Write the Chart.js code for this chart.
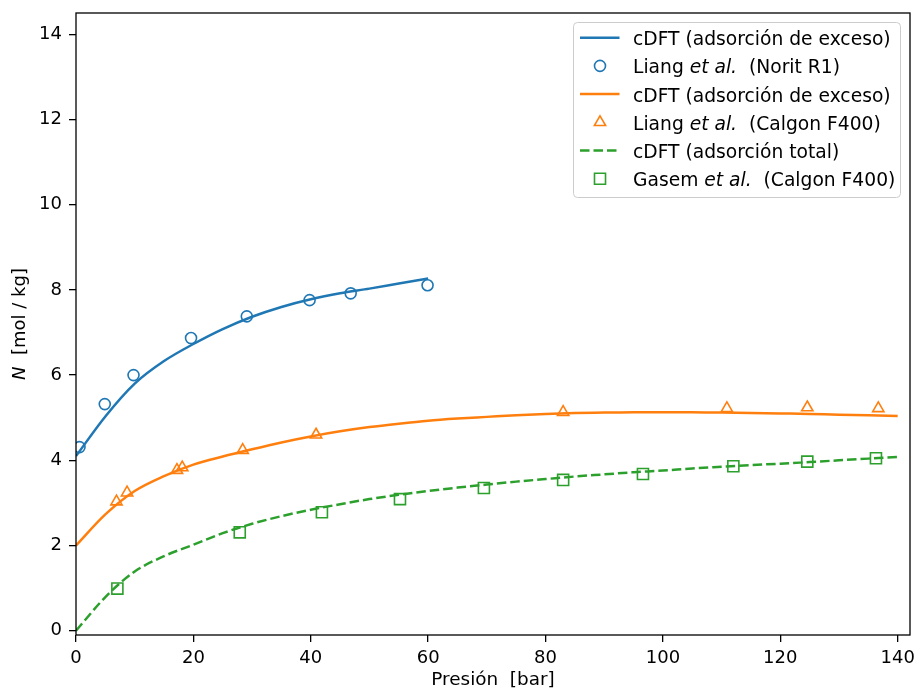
<!DOCTYPE html>
<html>
<head>
<meta charset="utf-8">
<script src="https://cdn.jsdelivr.net/npm/chart.js@4.4.0/dist/chart.umd.min.js"></script>
<style>
  html, body { margin: 0; padding: 0; background: #fff; }
</style>
</head>
<body>
<canvas id="isotermas" width="915" height="691"></canvas>
<script>
// curvas cDFT
var presionNorit = [0, 5, 10, 15, 20, 25, 30, 35, 40, 45, 50, 55, 60];
var excesoNorit = [4.1, 5.03, 5.8, 6.33, 6.73, 7.08, 7.37, 7.6, 7.78, 7.92, 8.03, 8.15, 8.27];

var presionCalgon = [0, 5, 10, 15, 20, 25, 30, 35, 40, 45, 50, 55, 60, 65, 70,
                     75, 80, 85, 90, 95, 100, 105, 110, 115, 120, 125, 130, 135, 140];
var excesoCalgon = [2.0, 2.73, 3.28, 3.63, 3.9, 4.09, 4.26, 4.42, 4.56, 4.68, 4.78, 4.86, 4.93, 4.98, 5.02,
                    5.06, 5.09, 5.11, 5.12, 5.13, 5.13, 5.13, 5.12, 5.11, 5.1, 5.09, 5.07, 5.06, 5.04];
var totalCalgon = [0, 0.79, 1.39, 1.75, 2.02, 2.29, 2.51, 2.69, 2.84, 2.97, 3.09, 3.19, 3.28, 3.36, 3.43,
                   3.5, 3.56, 3.62, 3.67, 3.72, 3.76, 3.81, 3.85, 3.89, 3.92, 3.96, 4.0, 4.04, 4.08];

// datos experimentales
var liangNoritP = [0.6, 4.9, 9.8, 19.6, 29.1, 39.8, 46.8, 59.9];
var liangNoritN = [4.31, 5.32, 6.0, 6.87, 7.38, 7.76, 7.92, 8.11];
var liangCalgonP = [6.9, 8.7, 17.2, 18.1, 28.4, 40.9, 83.0, 110.9, 124.6, 136.7];
var liangCalgonN = [3.03, 3.24, 3.77, 3.83, 4.24, 4.6, 5.13, 5.22, 5.24, 5.22];
var gasemP = [7.05, 27.9, 41.9, 55.2, 69.5, 83.0, 96.6, 112.0, 124.6, 136.3];
var gasemN = [0.99, 2.31, 2.78, 3.09, 3.35, 3.54, 3.68, 3.86, 3.97, 4.05];

var ticksX = [0, 20, 40, 60, 80, 100, 120, 140];
var ticksY = [0, 2, 4, 6, 8, 10, 12, 14];

var azul = '#1f77b4', naranja = '#ff7f0e', verde = '#2ca02c';
var fuente = 'DejaVu Sans';

function puntos(xs, ys) {
  return xs.map(function(x, i) { return {x: x, y: ys[i]}; });
}

function curva(label, xs, ys, color, dash) {
  return {
    label: label, data: puntos(xs, ys), showLine: true, clip: 0,
    borderColor: color, borderWidth: 2.5, borderDash: dash || [],
    pointRadius: 0, cubicInterpolationMode: 'monotone', fill: false
  };
}

function marcas(label, xs, ys, color, estilo, radio) {
  return {
    label: label, data: puntos(xs, ys), showLine: false, clip: 0,
    borderColor: color, backgroundColor: 'rgba(0,0,0,0)',
    pointStyle: estilo, pointRadius: radio, pointHoverRadius: radio,
    pointBorderWidth: 1.6, pointBackgroundColor: 'rgba(0,0,0,0)'
  };
}

// leyenda: [prefijo, cursiva, sufijo]
var textosLeyenda = [
  ['cDFT (adsorción de exceso)', '', ''],
  ['Liang ', 'et al.', '  (Norit R1)'],
  ['cDFT (adsorción de exceso)', '', ''],
  ['Liang ', 'et al.', '  (Calgon F400)'],
  ['cDFT (adsorción total)', '', ''],
  ['Gasem ', 'et al.', '  (Calgon F400)']
];

function dibujarMarca(ctx, ds, x, y) {
  var r = ds.pointRadius;
  ctx.save();
  ctx.strokeStyle = ds.borderColor;
  ctx.lineWidth = ds.pointBorderWidth;
  ctx.beginPath();
  if (ds.pointStyle === 'circle') {
    ctx.arc(x, y, r, 0, Math.PI * 2);
  } else if (ds.pointStyle === 'triangle') {
    ctx.moveTo(x, y - r);
    ctx.lineTo(x + r * Math.sqrt(3) / 2, y + r / 2);
    ctx.lineTo(x - r * Math.sqrt(3) / 2, y + r / 2);
    ctx.closePath();
  } else {
    var s = r * Math.SQRT1_2;
    ctx.rect(x - s, y - s, 2 * s, 2 * s);
  }
  ctx.stroke();
  ctx.restore();
}

var marco = {
  id: 'marco',
  afterDatasetsDraw: function(chart) {
    var a = chart.chartArea, ctx = chart.ctx;
    ctx.save();
    ctx.strokeStyle = '#000';
    ctx.lineWidth = 1.3;
    ctx.strokeRect(a.left, a.top, a.right - a.left, a.bottom - a.top);
    ctx.restore();
  }
};

var tituloY = {
  id: 'tituloY',
  afterDraw: function(chart) {
    var ctx = chart.ctx, a = chart.chartArea;
    ctx.save();
    ctx.translate(20, (a.top + a.bottom) / 2);
    ctx.rotate(-Math.PI / 2);
    ctx.fillStyle = '#000';
    ctx.textBaseline = 'middle';
    ctx.font = 'oblique 18px ' + fuente;
    var wN = ctx.measureText('N').width;
    ctx.font = '18px ' + fuente;
    var resto = '  [mol / kg]';
    var w = wN + ctx.measureText(resto).width;
    var x0 = -w / 2;
    ctx.font = 'oblique 18px ' + fuente;
    ctx.fillText('N', x0, 0);
    ctx.font = '18px ' + fuente;
    ctx.fillText(resto, x0 + wN, 0);
    ctx.restore();
  }
};

var leyenda = {
  id: 'leyenda',
  afterDraw: function(chart) {
    var ctx = chart.ctx, dss = chart.data.datasets;
    var bx = 573, by = 22, bw = 327, bh = 175;
    var f = '18.7px ' + fuente, fi = 'oblique 18.7px ' + fuente;
    ctx.save();
    ctx.fillStyle = 'rgba(255,255,255,0.8)';
    ctx.strokeStyle = '#cccccc';
    ctx.lineWidth = 1;
    ctx.beginPath();
    ctx.roundRect(bx + 0.5, by + 0.5, bw, bh, 4);
    ctx.fill();
    ctx.stroke();
    for (var i = 0; i < dss.length; i++) {
      var ds = dss[i], y = 37.7 + i * 28.2;
      if (ds.showLine) {
        ctx.save();
        ctx.strokeStyle = ds.borderColor;
        ctx.lineWidth = ds.borderWidth;
        ctx.setLineDash(ds.borderDash);
        ctx.beginPath();
        ctx.moveTo(580, y);
        ctx.lineTo(619.5, y);
        ctx.stroke();
        ctx.restore();
      } else {
        dibujarMarca(ctx, ds, 600, y);
      }
      var t = textosLeyenda[i], x = 633;
      ctx.fillStyle = '#000';
      ctx.textBaseline = 'alphabetic';
      ctx.font = f;
      ctx.fillText(t[0], x, y + 7.5);
      x += ctx.measureText(t[0]).width;
      if (t[1]) {
        ctx.font = fi;
        ctx.fillText(t[1], x, y + 7.5);
        x += ctx.measureText(t[1]).width;
        ctx.font = f;
        ctx.fillText(t[2], x, y + 7.5);
      }
    }
    ctx.restore();
  }
};

var ctx = document.getElementById('isotermas').getContext('2d');
var chart = new Chart(ctx, {
  type: 'scatter',
  data: {
    datasets: [
      curva('cDFT (adsorción de exceso)', presionNorit, excesoNorit, azul),
      marcas('Liang et al. (Norit R1)', liangNoritP, liangNoritN, azul, 'circle', 5.5),
      curva('cDFT (adsorción de exceso)', presionCalgon, excesoCalgon, naranja),
      marcas('Liang et al. (Calgon F400)', liangCalgonP, liangCalgonN, naranja, 'triangle', 6.5),
      curva('cDFT (adsorción total)', presionCalgon, totalCalgon, verde, [9.5, 4]),
      marcas('Gasem et al. (Calgon F400)', gasemP, gasemN, verde, 'rect', 7.8)
    ]
  },
  options: {
    responsive: false,
    devicePixelRatio: 1,
    animation: false,
    layout: { autoPadding: false, padding: { top: 13, right: 5, left: 0, bottom: 0 } },
    plugins: { legend: { display: false }, tooltip: { enabled: false } },
    scales: {
      x: {
        type: 'linear', min: 0, max: 142.1,
        afterFit: function(s) { s.height = 56; s.paddingLeft = 0; s.paddingRight = 0; },
        afterBuildTicks: function(s) { s.ticks = ticksX.map(function(v) { return {value: v}; }); },
        border: { display: false },
        grid: { drawOnChartArea: false, drawTicks: true, tickLength: 7, color: '#000', lineWidth: 1.3 },
        ticks: { color: '#000', padding: 6, maxRotation: 0, font: { family: fuente, size: 18 } },
        title: { display: true, text: 'Presión  [bar]', color: '#000', padding: { bottom: 0 }, font: { family: fuente, size: 18.4 } }
      },
      y: {
        type: 'linear', min: -0.1, max: 14.5,
        afterFit: function(s) { s.width = 76; s.paddingTop = 0; s.paddingBottom = 0; },
        afterBuildTicks: function(s) { s.ticks = ticksY.map(function(v) { return {value: v}; }); },
        border: { display: false },
        grid: { drawOnChartArea: false, drawTicks: true, tickLength: 7, color: '#000', lineWidth: 1.3 },
        ticks: { color: '#000', padding: 7, font: { family: fuente, size: 18 } }
      }
    }
  },
  plugins: [marco, tituloY, leyenda]
});
</script>
</body>
</html>
